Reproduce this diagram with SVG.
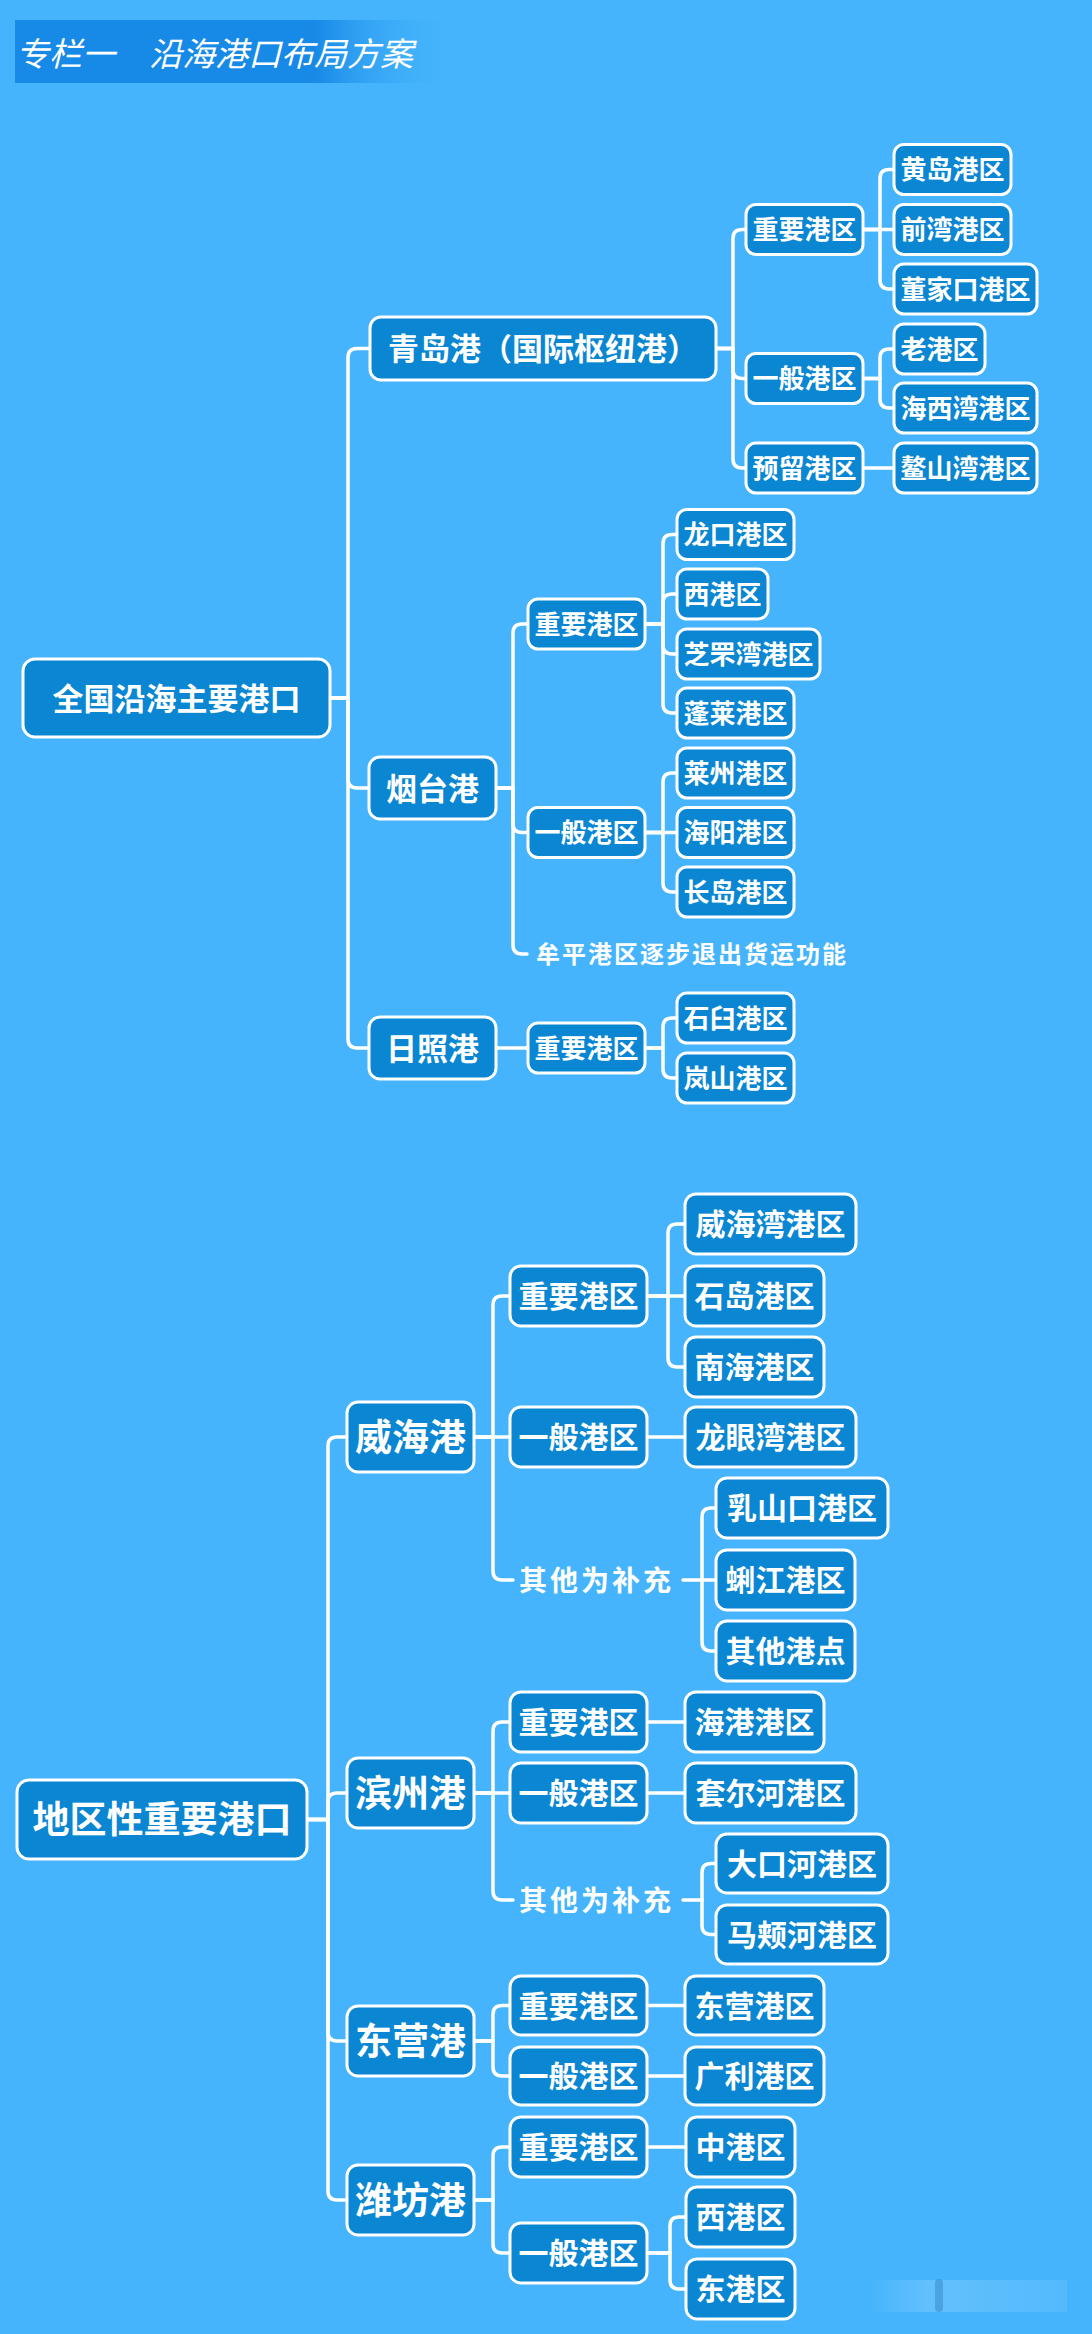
<svg xmlns="http://www.w3.org/2000/svg" width="1092" height="2334" viewBox="0 0 1092 2334">
<defs>
<linearGradient id="tg" x1="0" y1="0" x2="1" y2="0">
<stop offset="0" stop-color="#1789e6"/>
<stop offset="0.68" stop-color="#1789e6"/>
<stop offset="1" stop-color="#45b4fc" stop-opacity="0"/>
</linearGradient>
<linearGradient id="wm" x1="0" y1="0" x2="1" y2="0">
<stop offset="0" stop-color="#ffffff" stop-opacity="0"/>
<stop offset="0.3" stop-color="#ffffff" stop-opacity="0.16"/>
<stop offset="1" stop-color="#ffffff" stop-opacity="0.08"/>
</linearGradient>
<style>
.n rect{fill:#0a86d2;stroke:#ffffff;stroke-width:3}
.n text{font-family:"Noto Sans CJK SC","Noto Sans",sans-serif;font-weight:700;fill:#ffffff;text-anchor:middle}
.a text{font-size:26px}
.b text{font-size:31px}
.c text{font-size:30px}
.d text{font-size:37px}
#connectors path{fill:none;stroke:#ffffff;stroke-width:3.5;stroke-linecap:round;stroke-linejoin:round}
.lbl{font-family:"Noto Sans CJK SC","Noto Sans",sans-serif;font-weight:700;fill:#ffffff}
.title{font-family:"Noto Sans CJK SC","Noto Sans",sans-serif;font-weight:400;font-style:italic;fill:#ffffff;font-size:33px}
</style>
</defs>
<rect x="0" y="0" width="1092" height="2334" fill="#45b4fc"/>
<g id="title">
<rect x="15" y="20" width="440" height="63" fill="url(#tg)"/>
<text class="title" y="66"><tspan x="16">专栏一</tspan><tspan x="149">沿海港口布局方案</tspan></text>
</g>
<g id="connectors">
<path d="M330,698 H348 V357.5 Q348,348.5 357,348.5 H370"/>
<path d="M330,698 H348 V779 Q348,788 357,788 H369"/>
<path d="M330,698 H348 V1039 Q348,1048 357,1048 H369"/>
<path d="M716,348.5 H733 V238.5 Q733,229.5 742,229.5 H746"/>
<path d="M716,348.5 H733 V369.5 Q733,378.5 742,378.5 H746"/>
<path d="M716,348.5 H733 V459 Q733,468 742,468 H746"/>
<path d="M863,229.5 H880 V178.5 Q880,169.5 889,169.5 H894"/>
<path d="M863,229.5 H894"/>
<path d="M863,229.5 H880 V280 Q880,289 889,289 H894"/>
<path d="M863,378.5 H880 V358 Q880,349 889,349 H894"/>
<path d="M863,378.5 H880 V399 Q880,408 889,408 H894"/>
<path d="M863,468 H894"/>
<path d="M496,788 H513 V633 Q513,624 522,624 H528"/>
<path d="M496,788 H513 V823.5 Q513,832.5 522,832.5 H528"/>
<path d="M496,788 H513 V945 Q513,954 522,954 H527"/>
<path d="M645,624 H663 V543.5 Q663,534.5 672,534.5 H677"/>
<path d="M645,624 H663 V603 Q663,594 672,594 H677"/>
<path d="M645,624 H663 V645 Q663,654 672,654 H677"/>
<path d="M645,624 H663 V704 Q663,713 672,713 H677"/>
<path d="M645,832.5 H663 V782 Q663,773 672,773 H677"/>
<path d="M645,832.5 H677"/>
<path d="M645,832.5 H663 V883 Q663,892 672,892 H677"/>
<path d="M496,1048 H528"/>
<path d="M645,1048 H663 V1027 Q663,1018 672,1018 H677"/>
<path d="M645,1048 H663 V1069 Q663,1078 672,1078 H677"/>
<path d="M307,1819.5 H328 V1446 Q328,1437 337,1437 H347"/>
<path d="M307,1819.5 H328 V1802 Q328,1793 337,1793 H347"/>
<path d="M307,1819.5 H328 V2032 Q328,2041 337,2041 H347"/>
<path d="M307,1819.5 H328 V2191 Q328,2200 337,2200 H347"/>
<path d="M474,1437 H493 V1305 Q493,1296 502,1296 H510"/>
<path d="M474,1437 H510"/>
<path d="M474,1437 H493 V1571 Q493,1580 502,1580 H513"/>
<path d="M647,1296 H668 V1233 Q668,1224 677,1224 H685"/>
<path d="M647,1296 H685"/>
<path d="M647,1296 H668 V1358 Q668,1367 677,1367 H685"/>
<path d="M647,1437 H685"/>
<path d="M683,1580 H716"/>
<path d="M702,1580 V1517 Q702,1508 711,1508 H716"/>
<path d="M702,1580 V1642 Q702,1651 711,1651 H716"/>
<path d="M474,1793 H493 V1731 Q493,1722 502,1722 H510"/>
<path d="M474,1793 H510"/>
<path d="M474,1793 H493 V1891 Q493,1900 502,1900 H513"/>
<path d="M647,1722 H685"/>
<path d="M647,1793 H685"/>
<path d="M683,1900 H702"/>
<path d="M702,1900 V1872.5 Q702,1863.5 711,1863.5 H716"/>
<path d="M702,1900 V1925.5 Q702,1934.5 711,1934.5 H716"/>
<path d="M474,2041 H493 V2014.5 Q493,2005.5 502,2005.5 H510"/>
<path d="M474,2041 H493 V2067 Q493,2076 502,2076 H510"/>
<path d="M647,2005.5 H685"/>
<path d="M647,2076 H685"/>
<path d="M474,2200 H493 V2156 Q493,2147 502,2147 H510"/>
<path d="M474,2200 H493 V2244 Q493,2253 502,2253 H510"/>
<path d="M647,2147 H686"/>
<path d="M647,2253 H670 V2226 Q670,2217 679,2217 H686"/>
<path d="M647,2253 H670 V2280 Q670,2289 679,2289 H686"/>
</g>

<g id="n-root1" class="n b"><rect x="23" y="659" width="307" height="78" rx="12"/><text x="176.5" y="709.5">全国沿海主要港口</text></g>
<g id="n-qingdao" class="n b"><rect x="370" y="317" width="346" height="63" rx="11"/><text x="543" y="360">青岛港（国际枢纽港）</text></g>
<g id="n-yantai" class="n b"><rect x="369" y="757" width="127" height="62" rx="11"/><text x="432.5" y="799.5">烟台港</text></g>
<g id="n-rizhao" class="n b"><rect x="369" y="1017" width="127" height="62" rx="11"/><text x="432.5" y="1059.5">日照港</text></g>

<g id="n-qd-zy" class="n a"><rect x="746" y="204.5" width="117" height="50" rx="10"/><text x="804.5" y="239.1">重要港区</text></g>
<g id="n-qd-yb" class="n a"><rect x="746" y="353.5" width="117" height="50" rx="10"/><text x="804.5" y="388.1">一般港区</text></g>
<g id="n-qd-yl" class="n a"><rect x="746" y="443" width="117" height="50" rx="10"/><text x="804.5" y="477.6">预留港区</text></g>
<g id="n-huangdao" class="n a"><rect x="894" y="144.5" width="117" height="50" rx="10"/><text x="952.5" y="179.1">黄岛港区</text></g>
<g id="n-qianwan" class="n a"><rect x="894" y="204.5" width="117" height="50" rx="10"/><text x="952.5" y="239.1">前湾港区</text></g>
<g id="n-dongjiakou" class="n a"><rect x="894" y="264" width="143" height="50" rx="10"/><text x="965.5" y="298.6">董家口港区</text></g>
<g id="n-laogang" class="n a"><rect x="894" y="324" width="91" height="50" rx="10"/><text x="939.5" y="358.6">老港区</text></g>
<g id="n-haixiwan" class="n a"><rect x="894" y="383" width="143" height="50" rx="10"/><text x="965.5" y="417.6">海西湾港区</text></g>
<g id="n-aoshanwan" class="n a"><rect x="894" y="443" width="143" height="50" rx="10"/><text x="965.5" y="477.6">鳌山湾港区</text></g>

<g id="n-yt-zy" class="n a"><rect x="528" y="599" width="117" height="50" rx="10"/><text x="586.5" y="633.6">重要港区</text></g>
<g id="n-yt-yb" class="n a"><rect x="528" y="807.5" width="117" height="50" rx="10"/><text x="586.5" y="842.1">一般港区</text></g>
<g id="n-longkou" class="n a"><rect x="677" y="509.5" width="117" height="50" rx="10"/><text x="735.5" y="544.1">龙口港区</text></g>
<g id="n-xigang1" class="n a"><rect x="677" y="569" width="91" height="50" rx="10"/><text x="722.5" y="603.6">西港区</text></g>
<g id="n-zhifuwan" class="n a"><rect x="677" y="629" width="143" height="50" rx="10"/><text x="748.5" y="663.6">芝罘湾港区</text></g>
<g id="n-penglai" class="n a"><rect x="677" y="688" width="117" height="50" rx="10"/><text x="735.5" y="722.6">蓬莱港区</text></g>
<g id="n-laizhou" class="n a"><rect x="677" y="748" width="117" height="50" rx="10"/><text x="735.5" y="782.6">莱州港区</text></g>
<g id="n-haiyang" class="n a"><rect x="677" y="807.5" width="117" height="50" rx="10"/><text x="735.5" y="842.1">海阳港区</text></g>
<g id="n-changdao" class="n a"><rect x="677" y="867" width="117" height="50" rx="10"/><text x="735.5" y="901.6">长岛港区</text></g>
<text id="n-muping" class="lbl" x="536" y="963" font-size="24" letter-spacing="2">牟平港区逐步退出货运功能</text>

<g id="n-rz-zy" class="n a"><rect x="528" y="1023" width="117" height="50" rx="10"/><text x="586.5" y="1057.6">重要港区</text></g>
<g id="n-shijiu" class="n a"><rect x="677" y="993" width="117" height="50" rx="10"/><text x="735.5" y="1027.6">石臼港区</text></g>
<g id="n-lanshan" class="n a"><rect x="677" y="1053" width="117" height="50" rx="10"/><text x="735.5" y="1087.6">岚山港区</text></g>

<g id="n-root2" class="n d"><rect x="17" y="1780" width="290" height="79" rx="12"/><text x="162" y="1833">地区性重要港口</text></g>
<g id="n-weihai" class="n d"><rect x="347" y="1402" width="127" height="70" rx="11"/><text x="410.5" y="1450.5">威海港</text></g>
<g id="n-binzhou" class="n d"><rect x="347" y="1758" width="127" height="70" rx="11"/><text x="410.5" y="1806.5">滨州港</text></g>
<g id="n-dongying" class="n d"><rect x="347" y="2006" width="127" height="70" rx="11"/><text x="410.5" y="2054.5">东营港</text></g>
<g id="n-weifang" class="n d"><rect x="347" y="2165" width="127" height="70" rx="11"/><text x="410.5" y="2213.5">潍坊港</text></g>

<g id="n-wh-zy" class="n c"><rect x="510" y="1266" width="137" height="60" rx="11"/><text x="578.5" y="1307">重要港区</text></g>
<g id="n-wh-yb" class="n c"><rect x="510" y="1407" width="137" height="60" rx="11"/><text x="578.5" y="1448">一般港区</text></g>
<g id="n-weihaiwan" class="n c"><rect x="685" y="1194" width="171" height="60" rx="11"/><text x="770.5" y="1235">威海湾港区</text></g>
<g id="n-shidao" class="n c"><rect x="685" y="1266" width="139" height="60" rx="11"/><text x="754.5" y="1307">石岛港区</text></g>
<g id="n-nanhai" class="n c"><rect x="685" y="1337" width="139" height="60" rx="11"/><text x="754.5" y="1378">南海港区</text></g>
<g id="n-longyanwan" class="n c"><rect x="685" y="1407" width="171" height="60" rx="11"/><text x="770.5" y="1448">龙眼湾港区</text></g>
<text id="n-wh-other" class="lbl" x="519" y="1591" font-size="28" letter-spacing="3">其他为补充</text>
<g id="n-rushankou" class="n c"><rect x="716" y="1478" width="172" height="60" rx="11"/><text x="802" y="1519">乳山口港区</text></g>
<g id="n-lijiang" class="n c"><rect x="716" y="1550" width="139" height="60" rx="11"/><text x="785.5" y="1591">蜊江港区</text></g>
<g id="n-qitagangdian" class="n c"><rect x="716" y="1621" width="139" height="60" rx="11"/><text x="785.5" y="1662">其他港点</text></g>

<g id="n-bz-zy" class="n c"><rect x="510" y="1692" width="137" height="60" rx="11"/><text x="578.5" y="1733">重要港区</text></g>
<g id="n-haigang" class="n c"><rect x="685" y="1692" width="139" height="60" rx="11"/><text x="754.5" y="1733">海港港区</text></g>
<g id="n-bz-yb" class="n c"><rect x="510" y="1763" width="137" height="60" rx="11"/><text x="578.5" y="1804">一般港区</text></g>
<g id="n-taoerhe" class="n c"><rect x="685" y="1763" width="171" height="60" rx="11"/><text x="770.5" y="1804">套尔河港区</text></g>
<text id="n-bz-other" class="lbl" x="519" y="1911" font-size="28" letter-spacing="3">其他为补充</text>
<g id="n-dakouhe" class="n c"><rect x="716" y="1834" width="172" height="59" rx="11"/><text x="802" y="1874.6">大口河港区</text></g>
<g id="n-majiahe" class="n c"><rect x="716" y="1905" width="172" height="59" rx="11"/><text x="802" y="1945.6">马颊河港区</text></g>

<g id="n-dy-zy" class="n c"><rect x="510" y="1976" width="137" height="59" rx="11"/><text x="578.5" y="2016.6">重要港区</text></g>
<g id="n-dongyinggq" class="n c"><rect x="685" y="1976" width="139" height="59" rx="11"/><text x="754.5" y="2016.6">东营港区</text></g>
<g id="n-dy-yb" class="n c"><rect x="510" y="2047" width="137" height="58" rx="11"/><text x="578.5" y="2087.1">一般港区</text></g>
<g id="n-guangli" class="n c"><rect x="685" y="2047" width="139" height="58" rx="11"/><text x="754.5" y="2087.1">广利港区</text></g>

<g id="n-wf-zy" class="n c"><rect x="510" y="2117" width="137" height="60" rx="11"/><text x="578.5" y="2158">重要港区</text></g>
<g id="n-zhonggang" class="n c"><rect x="686" y="2117" width="109" height="60" rx="11"/><text x="740.5" y="2158">中港区</text></g>
<g id="n-wf-yb" class="n c"><rect x="510" y="2223" width="137" height="60" rx="11"/><text x="578.5" y="2264">一般港区</text></g>
<g id="n-xigang2" class="n c"><rect x="686" y="2187" width="109" height="60" rx="11"/><text x="740.5" y="2228">西港区</text></g>
<g id="n-donggang" class="n c"><rect x="686" y="2259" width="109" height="60" rx="11"/><text x="740.5" y="2300">东港区</text></g>

<g id="watermark">
<rect x="867" y="2280" width="200" height="32" fill="url(#wm)"/>
<rect x="935" y="2279" width="8" height="33" rx="4" fill="#2a78b8" opacity="0.4"/>
</g>
</svg>
